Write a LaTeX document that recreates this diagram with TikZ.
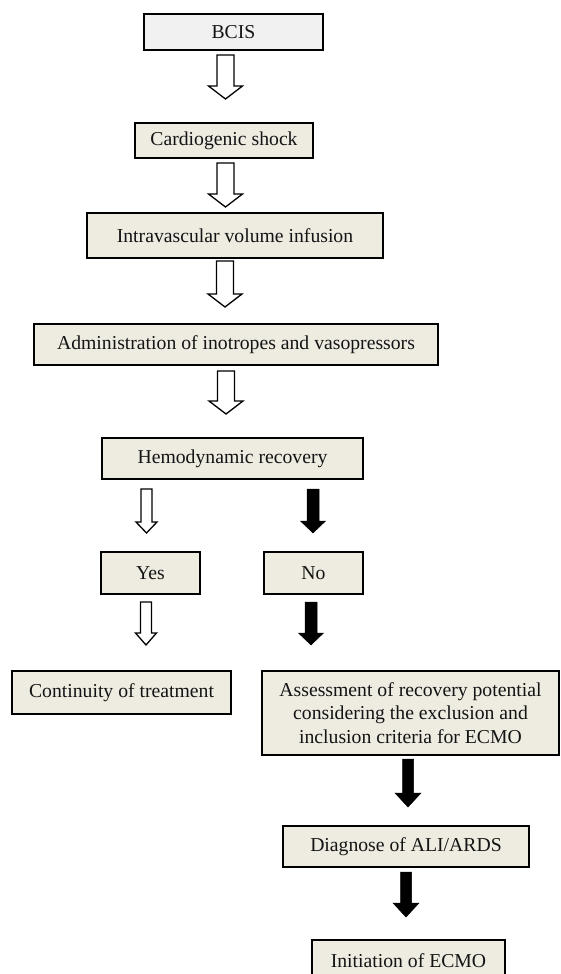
\documentclass[tikz,border=0pt]{standalone}
\usepackage{fontspec}
\setmainfont{Liberation Serif}
\usetikzlibrary{calc}
\definecolor{boxfill}{RGB}{238,235,225}
\definecolor{topfill}{RGB}{241,241,241}
\definecolor{txt}{RGB}{20,20,20}
\newcommand\blockarrow[6]{\path[#1] let \p1=(#2), \p2=(#3) in
  (\x1-#4pt,\y1) -- (\x1+#4pt,\y1) -- (\x1+#4pt,\y2+#6pt) -- (\x1+#5pt,\y2+#6pt)
  -- (\x1,\y2) -- (\x1-#5pt,\y2+#6pt) -- (\x1-#4pt,\y2+#6pt) -- cycle;}
\tikzset{
  box/.style={draw=black, line width=1.8pt, fill=boxfill, text=txt, align=center,
    inner sep=0pt, font=\fontsize{19.7}{23.5}\selectfont},
  hollow/.style={draw=black, line width=1.3pt, fill=white, line join=miter},
  solid/.style={draw=black, line width=0.5pt, fill=black, line join=miter}
}
\begin{document}
\begin{tikzpicture}[x=1pt,y=-1pt]
\useasboundingbox (0,0) rectangle (560,974);
\fill[white] (0,0) rectangle (560,974);

\node[box, fill=topfill, minimum width=179pt, minimum height=36pt] (bcis) at (233.5,32) {BCIS};
\node[box, minimum width=178pt, minimum height=35pt] (cs) at (224,140.5) {Cardiogenic shock};
\node[box, minimum width=296pt, minimum height=45pt] (ivi) at (235,235.5) {Intravascular volume infusion};
\node[box, minimum width=404pt, minimum height=41pt] (adm) at (236,344.5) {Administration of inotropes and vasopressors};
\node[box, minimum width=261pt, minimum height=41pt] (hem) at (232.5,458.5) {Hemodynamic recovery};
\node[box, minimum width=99pt, minimum height=42pt] (yes) at (150.5,573) {Yes};
\node[box, minimum width=99pt, minimum height=42pt] (no) at (313.5,573) {No};
\node[box, minimum width=219pt, minimum height=43pt] (cont) at (121.5,692.5) {Continuity of treatment};
\node[box, minimum width=297pt, minimum height=84pt] (assess) at (410.5,713) {Assessment of recovery potential\\considering the exclusion and\\inclusion criteria for ECMO};
\node[box, minimum width=246pt, minimum height=41pt] (diag) at (406,846.5) {Diagnose of ALI/ARDS};
\node[box, minimum width=193pt, minimum height=41pt] (ecmo) at (408.5,960.5) {Initiation of ECMO};

% arrow end points
\coordinate (a1t) at (225.5,55);  \coordinate (a1b) at (225.5,99);
\coordinate (a2t) at (225.5,163); \coordinate (a2b) at (225.5,207);
\coordinate (a3t) at (225,261);   \coordinate (a3b) at (225,307);
\coordinate (a4t) at (226,371);   \coordinate (a4b) at (226,414);
\coordinate (y1t) at (146.5,489); \coordinate (y1b) at (146.5,533);
\coordinate (n1t) at (313,489);   \coordinate (n1b) at (313,533);
\coordinate (y2t) at (146,602);   \coordinate (y2b) at (146,645);
\coordinate (n2t) at (311,602);   \coordinate (n2b) at (311,645);
\coordinate (d1t) at (408,759);   \coordinate (d1b) at (408,807);
\coordinate (d2t) at (406,872);   \coordinate (d2b) at (406,917);

\blockarrow{hollow}{a1t}{a1b}{8.5}{17}{13}
\blockarrow{hollow}{a2t}{a2b}{8.5}{17}{13}
\blockarrow{hollow}{a3t}{a3b}{8.5}{17}{13}
\blockarrow{hollow}{a4t}{a4b}{8.5}{17}{13}
\blockarrow{hollow}{y1t}{y1b}{5.5}{10.5}{11}
\blockarrow{solid}{n1t}{n1b}{6}{12.5}{12}
\blockarrow{hollow}{y2t}{y2b}{5.5}{10.5}{12}
\blockarrow{solid}{n2t}{n2b}{6}{12.5}{12}
\blockarrow{solid}{d1t}{d1b}{5.5}{13}{14}
\blockarrow{solid}{d2t}{d2b}{5.5}{13}{14}
\end{tikzpicture}
\end{document}
